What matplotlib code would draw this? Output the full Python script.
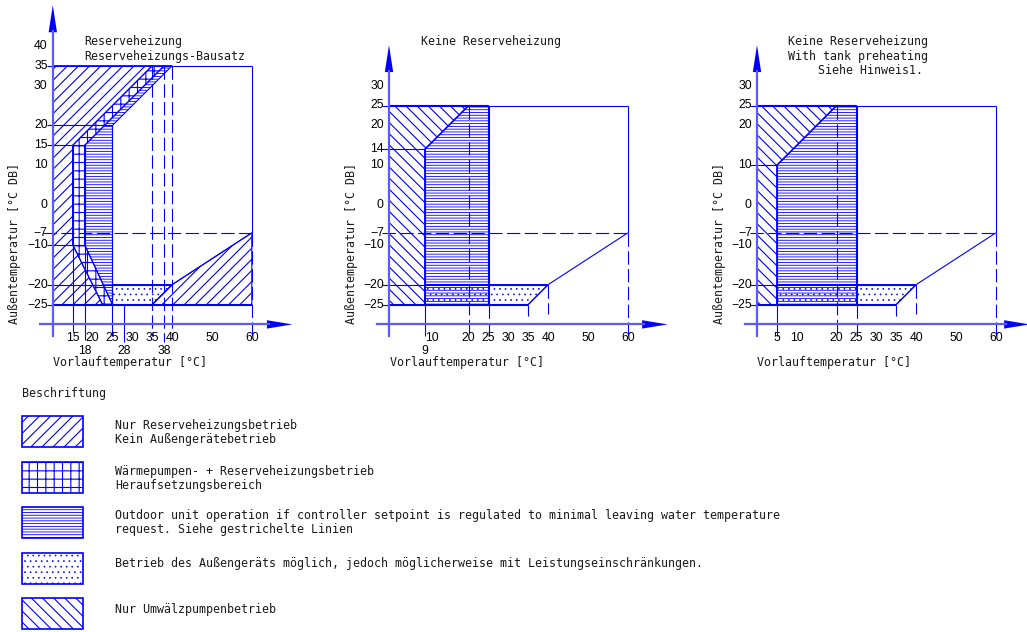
import matplotlib
matplotlib.use("Agg")
import matplotlib.pyplot as plt
from matplotlib.patches import Polygon, Rectangle

# ---------------------------------------------------------------- data
# Panel 1: backup heater / backup heater kit
p1_yticks = [40, 35, 30, 20, 15, 10, 0, -7, -10, -20, -25]
p1_xticks = [15, 20, 25, 30, 35, 40, 50, 60]
p1_xticks_low = [18, 28, 38]
p1_backup_only = [[(10, 35), (35, 35), (15, 15), (15, -10), (22.5, -25), (10, -25)],
                  [(35, -25), (40, -20), (60, -7), (60, -25)]]
p1_boost = [[(15, 15), (35, 35), (38, 35), (18, 15), (18, -10), (25, -25), (22.5, -25), (15, -10)]]
p1_outdoor = [[(18, -10), (18, 15), (38, 35), (40, 35), (25, 20), (25, -25)]]
p1_limited = [[(25, -20), (40, -20), (35, -25), (25, -25)]]
p1_pump_only = []
p1_solid = [((8.5, 35), (60, 35)), ((60, 35), (60, -7)), ((8.5, 20), (25, 20)),
            ((8.5, 15), (18, 15)), ((8.5, -10), (18, -10)), ((8.5, -20), (40, -20)),
            ((8.5, -25), (60, -25)), ((15, 15), (15, -32)), ((18, 15), (18, -34)),
            ((25, 20), (25, -33)), ((28, -25), (28, -34.5)),
            ((40, -20), (60, -7)), ((35, -25), (40, -20))]
p1_dashed = [((7.5, -7), (60, -7)), ((35, 35), (35, -33)), ((38, 35), (38, -34.5)),
             ((40, 35), (40, -33)), ((60, -7), (60, -33))]

# Panel 2: no backup heater
p2_yticks = [30, 25, 20, 14, 10, 0, -7, -10, -20, -25]
p2_xticks = [20, 25, 30, 35, 40, 50, 60]
p2_backup_only = []
p2_boost = []
p2_pump_only = [[(0, 25), (20, 25), (9, 14), (9, -25), (0, -25)]]
p2_outdoor = [[(9, -25), (9, 14), (20, 25), (25, 25), (25, -25)]]
p2_limited = [[(9, -20), (40, -20), (35, -25), (9, -25)]]
p2_solid = [((-1.8, 25), (60, 25)), ((60, 25), (60, -7)), ((-1.8, 14), (9, 14)),
            ((-1.8, -20), (40, -20)), ((-1.8, -25), (35, -25)), ((9, 14), (20, 25)),
            ((9, 14), (9, -33)), ((25, 25), (25, -25)), ((35, -25), (35, -28)),
            ((35, -25), (40, -20)), ((40, -20), (60, -7))]
p2_dashed = [((-1.8, -7), (60, -7)), ((20, 25), (20, -33)), ((25, -25), (25, -33)),
             ((40, -20), (40, -27.5)), ((60, -7), (60, -33))]

# Panel 3: no backup heater, with tank preheating
p3_yticks = [30, 25, 20, 10, 0, -7, -10, -20, -25]
p3_xticks = [5, 10, 20, 25, 30, 35, 40, 50, 60]
p3_backup_only = []
p3_boost = []
p3_pump_only = [[(0, 25), (20, 25), (5, 10), (5, -25), (0, -25)]]
p3_outdoor = [[(5, -25), (5, 10), (20, 25), (25, 25), (25, -25)]]
p3_limited = [[(5, -20), (40, -20), (35, -25), (5, -25)]]
p3_solid = [((-1.8, 25), (60, 25)), ((60, 25), (60, -7)), ((-1.8, 10), (5, 10)),
            ((-1.8, -20), (40, -20)), ((-1.8, -25), (35, -25)), ((5, 10), (20, 25)),
            ((5, 10), (5, -33)), ((25, 25), (25, -25)), ((35, -25), (35, -28)),
            ((35, -25), (40, -20)), ((40, -20), (60, -7))]
p3_dashed = [((-1.8, -7), (60, -7)), ((20, 25), (20, -33)), ((25, -25), (25, -33)),
             ((40, -20), (40, -27.5)), ((60, -7), (60, -33))]

legend_labels = [
    ["Nur Reserveheizungsbetrieb", "Kein Außengerätebetrieb"],
    ["Wärmepumpen- + Reserveheizungsbetrieb", "Heraufsetzungsbereich"],
    ["Outdoor unit operation if controller setpoint is regulated to minimal leaving water temperature",
     "request. Siehe gestrichelte Linien"],
    ["Betrieb des Außengeräts möglich, jedoch möglicherweise mit Leistungseinschränkungen."],
    ["Nur Umwälzpumpenbetrieb"],
]

# ---------------------------------------------------------------- style
W, H, DPI = 1027, 632, 100
BLUE = "#0000ff"
AXC = "#5a5aff"
TXT = "#1a1a1a"
S = 3.98  # pixels per degree on both axes
NUM = ["Liberation Sans Narrow", "Liberation Sans", "DejaVu Sans"]
MONO = ["DejaVu Sans Mono"]
NUM_SIZE = 8.8
MONO_SIZE = 8.4

# hatch pattern and hatch line width per operating zone
HATCH = {"backup": ("///", 0.8), "boost": ("++", 0.8), "outdoor": ("------", 0.6),
         "limited": ("...", 0.45), "pump": ("\\\\\\", 0.8)}

plt.rcParams["hatch.color"] = BLUE

fig = plt.figure(figsize=(W / DPI, H / DPI), dpi=DPI)


def make_panel(ox, oy, left, right, top=0, bottom=380):
    ax = fig.add_axes([left / W, 1 - bottom / H, (right - left) / W, (bottom - top) / H])
    ax.set_xlim((left - ox) / S, (right - ox) / S)
    ax.set_ylim((oy - bottom) / S, (oy - top) / S)
    ax.axis("off")
    return ax


def hatched(patch_cls, *args, zone, **kw):
    hatch, hlw = HATCH[zone]
    plt.rcParams["hatch.linewidth"] = hlw
    return patch_cls(*args, facecolor="none", edgecolor=BLUE, hatch=hatch, **kw)


def regions(ax, polys, zone):
    for verts in polys:
        ax.add_patch(hatched(Polygon, verts, zone=zone, closed=True, lw=0.8, clip_on=False))


def segments(ax, segs, dashed=False):
    for (x0, y0), (x1, y1) in segs:
        kw = dict(color=BLUE, lw=0.8, clip_on=False, solid_capstyle="butt")
        if dashed:
            kw["dashes"] = (12, 4)
        ax.plot([x0, x1], [y0, y1], **kw)


def axes_frame(ax, x_axis, x_from, x_tip, y_top):
    # vertical axis with arrow
    ax.plot([x_axis, x_axis], [-33, y_top - 6.5], color=AXC, lw=1.6, clip_on=False)
    ax.add_patch(Polygon([(x_axis - 1.05, y_top - 6.8), (x_axis + 1.05, y_top - 6.8), (x_axis, y_top)],
                         closed=True, color=BLUE, lw=0, clip_on=False))
    # horizontal axis with arrow
    ax.plot([x_from, x_tip - 6], [-30, -30], color=AXC, lw=1.6, clip_on=False)
    ax.add_patch(Polygon([(x_tip - 6.4, -28.95), (x_tip - 6.4, -31.05), (x_tip, -30)],
                         closed=True, color=BLUE, lw=0, clip_on=False))


def tick_labels(ax, x_axis, yticks, xticks, xlow=(), xshift=None):
    for v in yticks:
        lab = f"{v}".replace("-", "\u2212")
        ax.text(x_axis - 1.3, v, lab, ha="right", va="center", family=NUM,
                fontsize=NUM_SIZE, color="black")
    for v in xticks:
        xp = v + (xshift.get(v, 0) if xshift else 0)
        ax.text(xp, -33.3, f"{v}", ha="center", va="center", family=NUM,
                fontsize=NUM_SIZE, color="black")
    for v in xlow:
        ax.text(v, -36.6, f"{v}", ha="center", va="center", family=NUM,
                fontsize=NUM_SIZE, color="black")


def axis_titles(ax, x_label_at, y_label_at):
    ax.text(x_label_at, -39.6, "Vorlauftemperatur [°C]", ha="left", va="center",
            family=MONO, fontsize=MONO_SIZE, color=TXT)
    ax.text(y_label_at, -30, "Außentemperatur [°C DB]", ha="center", va="bottom",
            rotation=90, family=MONO, fontsize=MONO_SIZE, color=TXT)


def draw_panel(ax, backup, boost, outdoor, limited, pump, solid, dashed):
    regions(ax, backup, "backup")
    regions(ax, boost, "boost")
    regions(ax, outdoor, "outdoor")
    regions(ax, limited, "limited")
    regions(ax, pump, "pump")
    segments(ax, solid)
    segments(ax, dashed, dashed=True)


def title(ax, x, y, s):
    ax.text(x, y, s, ha="left", va="center", family=MONO, fontsize=MONO_SIZE, color=TXT)


# ---------------------------------------------------------------- panel 1
ax1 = make_panel(13, 205, 0, 310)
draw_panel(ax1, p1_backup_only, p1_boost, p1_outdoor, p1_limited, p1_pump_only,
           p1_solid, p1_dashed)
axes_frame(ax1, 10, 6.8, 70.2, 50.2)
tick_labels(ax1, 10, p1_yticks, p1_xticks, p1_xticks_low)
axis_titles(ax1, 10.0, 0.5)
title(ax1, 17.8, 41.0, "Reserveheizung")
title(ax1, 17.8, 37.4, "Reserveheizungs-Bausatz")

# ---------------------------------------------------------------- panel 2
ax2 = make_panel(389, 205, 330, 690)
draw_panel(ax2, p2_backup_only, p2_boost, p2_outdoor, p2_limited, p2_pump_only,
           p2_solid, p2_dashed)
axes_frame(ax2, 0, -3.0, 70.0, 40.2)
tick_labels(ax2, 0, p2_yticks, [10] + p2_xticks, [9], xshift={10: 0.9})
axis_titles(ax2, 0.3, -9.3)
title(ax2, 8.0, 41.0, "Keine Reserveheizung")

# ---------------------------------------------------------------- panel 3
ax3 = make_panel(757, 205, 700, 1027)
draw_panel(ax3, p3_backup_only, p3_boost, p3_outdoor, p3_limited, p3_pump_only,
           p3_solid, p3_dashed)
axes_frame(ax3, 0, -3.0, 68.5, 40.2)
tick_labels(ax3, 0, p3_yticks, p3_xticks)
axis_titles(ax3, 0.0, -9.3)
title(ax3, 7.8, 41.0, "Keine Reserveheizung")
title(ax3, 7.8, 37.4, "With tank preheating")
title(ax3, 15.3, 33.7, "Siehe Hinweis1.")

# ---------------------------------------------------------------- legend
lg = fig.add_axes([0, 0, 1, 1])
lg.set_xlim(0, W)
lg.set_ylim(H, 0)
lg.axis("off")
lg.text(22, 393, "Beschriftung", ha="left", va="center", family=MONO,
        fontsize=MONO_SIZE, color=TXT)
swatch_tops = [416, 462, 507, 553, 598]
swatch_zones = ["backup", "boost", "outdoor", "limited", "pump"]
for top, zone, lines in zip(swatch_tops, swatch_zones, legend_labels):
    lg.add_patch(hatched(Rectangle, (22, top), 61, 31, zone=zone, lw=1.2))
    if len(lines) == 2:
        lg.text(115, top + 9, lines[0], ha="left", va="center", family=MONO,
                fontsize=MONO_SIZE, color=TXT)
        lg.text(115, top + 23, lines[1], ha="left", va="center", family=MONO,
                fontsize=MONO_SIZE, color=TXT)
    else:
        lg.text(115, top + 11, lines[0], ha="left", va="center", family=MONO,
                fontsize=MONO_SIZE, color=TXT)

fig.savefig("out.png", dpi=DPI)
